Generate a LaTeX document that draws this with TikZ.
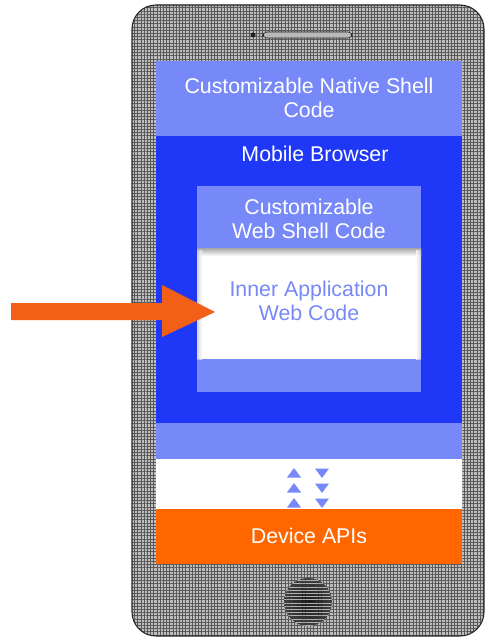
\documentclass[tikz,border=0pt]{standalone}
\usepackage{fontspec}
\setmainfont{Liberation Sans}
\usetikzlibrary{patterns,patterns.meta}
\definecolor{lightblue}{HTML}{7788F8}
\definecolor{darkblue}{HTML}{1F38F8}
\definecolor{apiorange}{HTML}{FF6600}
\definecolor{arroworange}{HTML}{F26018}
\definecolor{bodygray}{HTML}{BDBDBD}
\begin{document}
\begin{tikzpicture}[x=0.75pt,y=-0.75pt,
  lbl/.style={font=\fontsize{16}{18.5}\selectfont, text=white, align=center, inner sep=0pt},
  tri/.style={fill=lightblue},
  texture/.style={pattern={Lines[angle=0,distance=2.4pt,line width=0.4pt]}, pattern color=gray!70!black},
  texturev/.style={pattern={Lines[angle=90,distance=2.4pt,line width=0.4pt]}, pattern color=gray!70!black}]
\useasboundingbox (0,0) rectangle (486,638);
% phone body
\path[fill=bodygray, rounded corners=18] (132,5) rectangle (484,636);
\path[texture, rounded corners=18] (132,5) rectangle (484,636);
\path[texturev, rounded corners=18] (132,5) rectangle (484,636);
\draw[gray!30!black, line width=0.8pt, rounded corners=18] (132,5) rectangle (484,636);
% speaker
\fill[gray!25!black] (253,35) circle (2.5);
\draw[fill=gray!55, draw=gray!25!black, rounded corners=3] (263,32) rectangle (352,38);
% home button
\shade[inner color=gray!20!black, outer color=gray!50!black] (308,602) circle (24);
\path[pattern={Lines[angle=0,distance=2.4pt,line width=0.4pt]}, pattern color=gray!60] (308,602) circle (24);
% screen layers
\fill[lightblue] (156,61) rectangle (462,136);
\fill[darkblue] (156,136) rectangle (462,423);
\fill[lightblue] (156,423) rectangle (462,459);
\fill[white] (156,459) rectangle (462,509);
\fill[apiorange] (156,509) rectangle (462,564);
% inner web shell
\fill[lightblue] (197,186) rectangle (421,392);
\fill[white] (197,248) rectangle (421,359);
\shade[top color=gray!70, bottom color=white] (197,248) rectangle (421,256);
\shade[left color=gray!45, right color=white, opacity=0.7] (197,250) rectangle (202,359);
\shade[right color=gray!45, left color=white, opacity=0.7] (416,250) rectangle (421,359);
% texts
\node[lbl] (native) at (309,98) {Customizable Native Shell\\Code};
\node[lbl] (browser) at (315,154) {Mobile Browser};
\node[lbl] (webshell) at (309,219) {Customizable\\Web Shell Code};
\node[lbl, text=lightblue] (inner) at (309,301) {Inner Application\\Web Code};
\node[lbl] (apis) at (309,536) {Device APIs};
% small arrows
\foreach \y in {473,488,503} {
  \fill[tri] (287,\y+4.5) -- (301,\y+4.5) -- (294,\y-5) -- cycle;
  \fill[tri] (315,\y-4.5) -- (329,\y-4.5) -- (322,\y+5) -- cycle;
}
% big arrow
\fill[arroworange] (11,303) -- (162,303) -- (162,285) -- (215,312) -- (162,337) -- (162,320) -- (11,320) -- cycle;
\end{tikzpicture}
\end{document}
